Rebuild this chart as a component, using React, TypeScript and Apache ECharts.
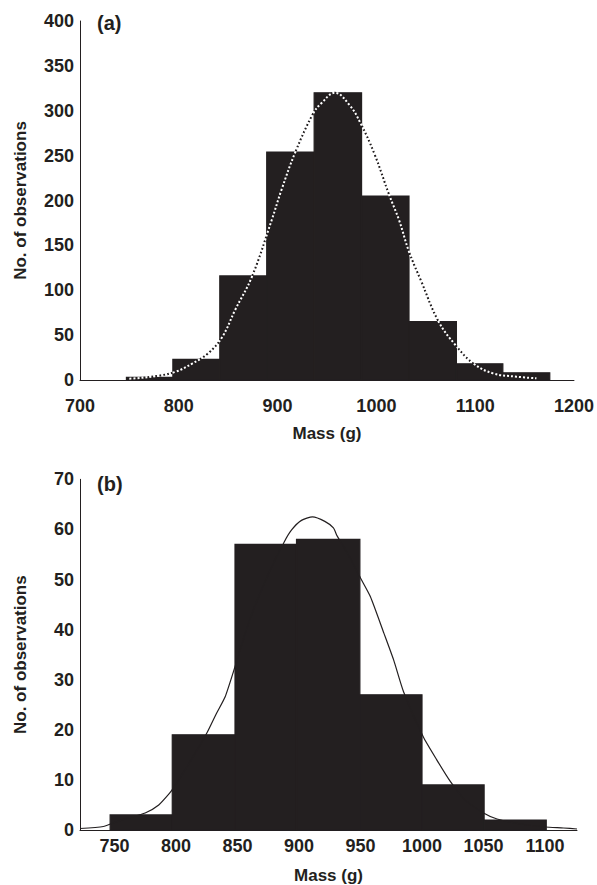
import React, { useEffect, useRef } from "react";
import * as echarts from "echarts";

// ---- Panel (a) ----
const topBinEdges = [747, 794, 841.5, 889, 937, 985, 1033, 1081, 1128, 1175.5];
const topCounts = [3, 23, 116, 254, 320, 205, 65, 18, 8];
const topCurveX = [748, 757, 780, 797, 814, 830, 844, 857, 874, 894, 904, 918, 936, 944, 958, 973, 984, 998, 1013, 1023, 1033, 1045, 1063, 1080, 1098, 1118, 1142, 1162];
const topCurveY = [1.5, 1.9, 4.8, 9.3, 18.6, 30, 48, 78, 115, 178, 212, 254, 297, 308, 320, 306, 286, 252, 206, 178, 143, 111, 65, 39, 18.6, 7.4, 3.7, 1.9];

// ---- Panel (b) ----
const bottomBinEdges = [746.5, 797, 848, 898, 949.5, 1000, 1050.5, 1101];
const bottomCounts = [3, 19, 57, 58, 27, 9, 2];
const bottomCurveX = [722, 741, 749, 760, 775, 786, 795, 798, 810, 825, 833, 840, 848, 860, 875, 888, 894, 902, 911, 921, 928, 931, 940, 950, 958, 969, 977, 985, 1001, 1012, 1023, 1035, 1050, 1061, 1080, 1100, 1115, 1126];
const bottomCurveY = [0.3, 0.7, 1.4, 2.3, 3.4, 5, 7.4, 8.4, 13, 19.3, 23.3, 26.6, 32.6, 42, 51, 57.5, 59.9, 61.8, 62.5, 61.6, 60.3, 58.7, 55, 50.3, 46.6, 39.3, 33.9, 27.6, 18.6, 14, 9.7, 6, 3.4, 2.2, 1.2, 0.6, 0.4, 0.2];
const bottomXTicks = [750, 800, 850, 900, 950, 1000, 1050, 1100];

const INK = "#231f20";
const FONT = "'Liberation Sans', Arial, Helvetica, sans-serif";

function bins(edges: number[], counts: number[]) {
  return counts.map((c, i) => [edges[i], edges[i + 1], c]);
}

function zip(xs: number[], ys: number[]) {
  return xs.map((x, i) => [x, ys[i]]);
}

const renderBar = (params: any, api: any) => {
  const x0 = api.value(0);
  const x1 = api.value(1);
  const v = api.value(2);
  const p0 = api.coord([x0, v]);
  const p1 = api.coord([x1, 0]);
  return {
    type: "rect",
    shape: { x: p0[0], y: p0[1], width: p1[0] - p0[0], height: p1[1] - p0[1] },
    style: { fill: INK, stroke: INK, lineWidth: 1.2 },
  };
};

const plain = (v: number) => String(v);

export default function App() {
  const ref = useRef<HTMLDivElement>(null);
  useEffect(() => {
    document.body.style.margin = "0";
    if (!ref.current) return;
    const chart = echarts.init(ref.current, undefined, { renderer: "svg" });
    const tickStyle = { color: INK, fontFamily: FONT, fontWeight: "bold" as const, fontSize: 18 };
    const nameStyle = { color: INK, fontFamily: FONT, fontWeight: "bold" as const, fontSize: 17 };
    const axisLine = { show: true, lineStyle: { color: INK, width: 1 } };
    chart.setOption({
      animation: false,
      backgroundColor: "#ffffff",
      grid: [
        { left: 80, top: 21, width: 497, height: 359 },
        { left: 80, top: 479.3, width: 497, height: 350.7 },
      ],
      xAxis: [
        {
          type: "value", gridIndex: 0, min: 700, max: 1200, interval: 100,
          axisLine, axisTick: { show: false }, splitLine: { show: false },
          axisLabel: { ...tickStyle, margin: 17, formatter: plain },
          name: "Mass (g)", nameLocation: "middle", nameGap: 45, nameTextStyle: nameStyle,
        },
        {
          type: "value", gridIndex: 1, min: 722, max: 1126,
          axisLine, axisTick: { show: false }, splitLine: { show: false },
          axisLabel: { ...tickStyle, margin: 7, customValues: bottomXTicks, formatter: plain },
          name: "Mass (g)", nameLocation: "middle", nameGap: 37, nameTextStyle: nameStyle,
        },
      ],
      yAxis: [
        {
          type: "value", gridIndex: 0, min: 0, max: 400, interval: 50,
          axisLine, axisTick: { show: false }, splitLine: { show: false },
          axisLabel: { ...tickStyle, margin: 6, formatter: plain },
          name: "No. of observations", nameLocation: "middle", nameGap: 51, nameTextStyle: nameStyle,
        },
        {
          type: "value", gridIndex: 1, min: 0, max: 70, interval: 10,
          axisLine, axisTick: { show: false }, splitLine: { show: false },
          axisLabel: { ...tickStyle, margin: 6, formatter: plain },
          name: "No. of observations", nameLocation: "middle", nameGap: 51, nameTextStyle: nameStyle,
        },
      ],
      graphic: [
        {
          type: "text", left: 97, top: 13,
          style: { text: "(a)", fill: INK, fontSize: 20, fontWeight: "bold", fontFamily: FONT },
        },
        {
          type: "text", left: 97, top: 474,
          style: { text: "(b)", fill: INK, fontSize: 20, fontWeight: "bold", fontFamily: FONT },
        },
      ],
      series: [
        {
          type: "custom", xAxisIndex: 0, yAxisIndex: 0, z: 2,
          renderItem: renderBar, encode: { x: [0, 1], y: 2 },
          data: bins(topBinEdges, topCounts),
        },
        {
          type: "line", xAxisIndex: 0, yAxisIndex: 0, z: 3, smooth: 0.4, showSymbol: false,
          lineStyle: { color: INK, width: 2, type: [2, 2] },
          data: zip(topCurveX, topCurveY),
        },
        {
          type: "line", xAxisIndex: 0, yAxisIndex: 0, z: 4, smooth: 0.4, showSymbol: false,
          lineStyle: { color: "#ffffff", width: 2, type: [2, 2], dashOffset: 2 },
          data: zip(topCurveX, topCurveY),
        },
        {
          type: "custom", xAxisIndex: 1, yAxisIndex: 1, z: 2,
          renderItem: renderBar, encode: { x: [0, 1], y: 2 },
          data: bins(bottomBinEdges, bottomCounts),
        },
        {
          type: "line", xAxisIndex: 1, yAxisIndex: 1, z: 3, smooth: 0.2, showSymbol: false,
          lineStyle: { color: INK, width: 1.2 },
          data: zip(bottomCurveX, bottomCurveY),
        },
      ],
    });
    return () => chart.dispose();
  }, []);
  return <div ref={ref} style={{ width: 597, height: 885 }} />;
}
